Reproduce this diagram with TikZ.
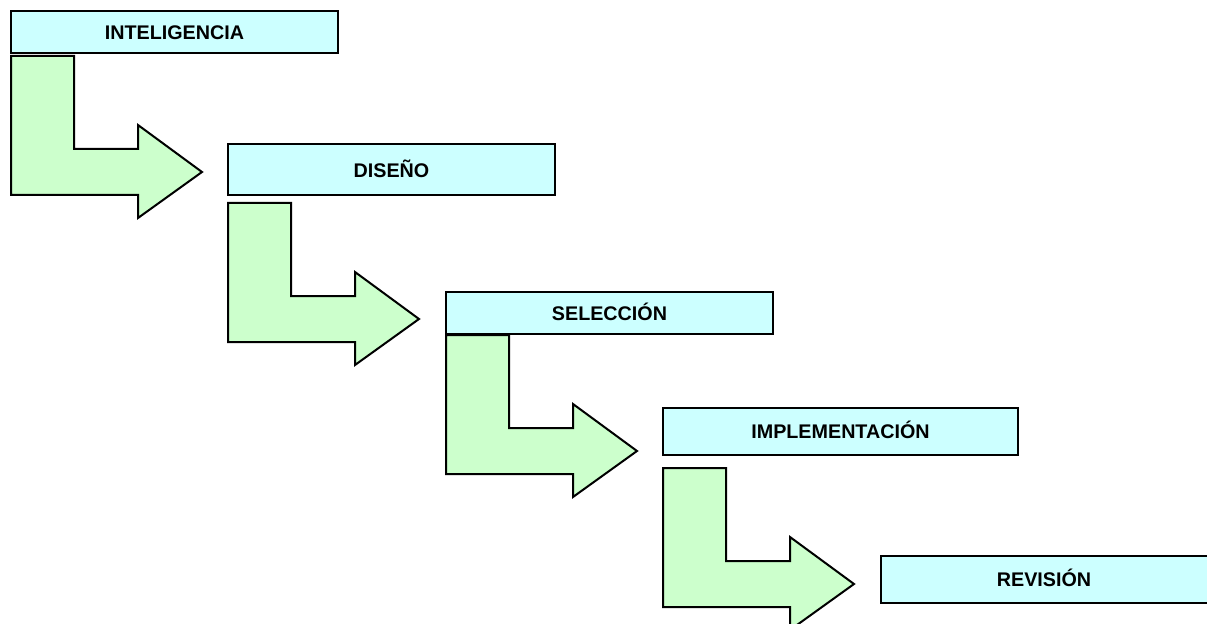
\documentclass[tikz,border=0pt]{standalone}
\usepackage{fontspec}
\setmainfont{Liberation Sans}
\definecolor{celeste}{HTML}{CCFFFF}
\definecolor{verdeclaro}{HTML}{CCFFCC}

\begin{document}
\begin{tikzpicture}[x=0.75pt,y=-0.75pt]
\tikzstyle{fase}=[rectangle,draw=black,line width=1.5pt,fill=celeste,minimum width=245.25pt,inner sep=0pt,text height=10.6pt,text depth=0pt,font=\fontsize{14.8}{17}\selectfont\bfseries]
\tikzstyle{flecha}=[draw=black,line width=1.5pt,fill=verdeclaro,line join=miter]
\useasboundingbox (0,0) rectangle (1207,624);
\draw [flecha] (11,56) -- ++(63,0) -- ++(0,93) -- ++(64,0) -- ++(0,-24) -- ++(64,47) -- ++(-64,46) -- ++(0,-23) -- ++(-127,0) -- cycle;
\draw [flecha] (228,203) -- ++(63,0) -- ++(0,93) -- ++(64,0) -- ++(0,-24) -- ++(64,47) -- ++(-64,46) -- ++(0,-23) -- ++(-127,0) -- cycle;
\draw [flecha] (446,335) -- ++(63,0) -- ++(0,93) -- ++(64,0) -- ++(0,-24) -- ++(64,47) -- ++(-64,46) -- ++(0,-23) -- ++(-127,0) -- cycle;
\draw [flecha] (663,468) -- ++(63,0) -- ++(0,93) -- ++(64,0) -- ++(0,-24) -- ++(64,47) -- ++(-64,46) -- ++(0,-23) -- ++(-127,0) -- cycle;
\node [fase,minimum height=31.5pt] (inteligencia) at (174.5,32) {INTELIGENCIA};
\node [fase,minimum height=38.25pt] (diseno) at (391.5,170) {DISEÑO};
\node [fase,minimum height=31.5pt] (seleccion) at (609.5,313) {SELECCIÓN};
\node [fase,minimum height=35.25pt,minimum width=266.25pt] (implementacion) at (840.5,431.5) {IMPLEMENTACIÓN};
\node [fase,minimum height=35.25pt] (revision) at (1044,579.5) {REVISIÓN};
\end{tikzpicture}
\end{document}
